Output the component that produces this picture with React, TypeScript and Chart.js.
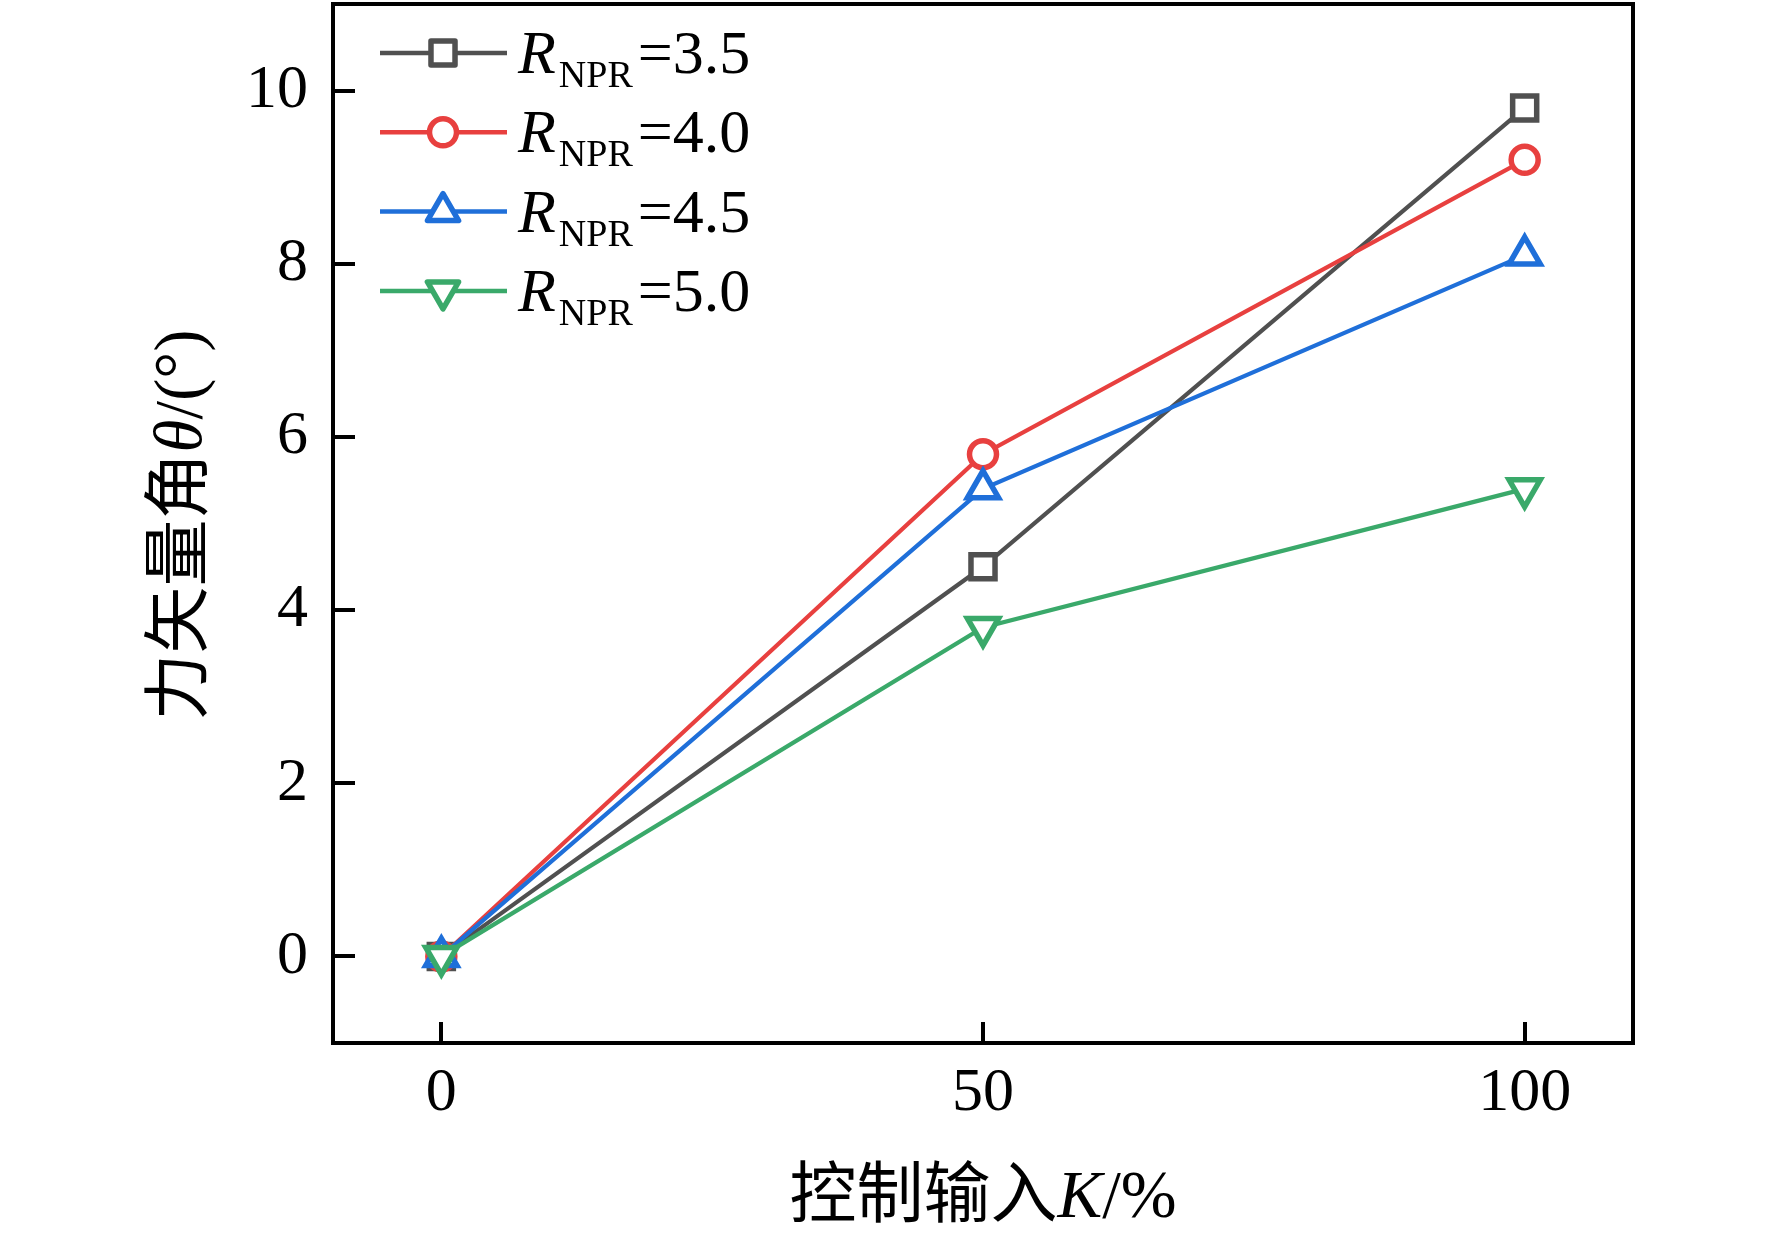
import React, { useEffect, useRef } from 'react';
import { Chart, registerables } from 'chart.js';

Chart.register(...registerables);

// ---- data ----
const kValues = [0, 50, 100];
const nprLabels = ['3.5', '4.0', '4.5', '5.0'];
const npr35 = [0, 4.5, 9.8];
const npr40 = [0, 5.8, 9.2];
const npr45 = [0, 5.4, 8.1];
const npr50 = [0, 3.8, 5.4];
const xTicks = [0, 50, 100];
const yTicks = [0, 2, 4, 6, 8, 10];
const xTitleRuns: [string, string][] = [['控制输入', 'cjk'], ['K', 'italic'], ['/%', 'roman']];
const yTitleRuns: [string, string][] = [['力矢量角', 'cjk'], ['θ', 'italic'], ['/(°)', 'roman']];

// ---- styles ----
const SERIF = '"Liberation Serif", "Times New Roman", serif';
const CJK = '"Noto Sans CJK SC", "Noto Sans CJK JP", sans-serif';
const seriesStyles = [
  { color: '#505050', pointStyle: 'rect', radius: 17, rotation: 0 },
  { color: '#e8403f', pointStyle: 'circle', radius: 13.5, rotation: 0 },
  { color: '#1f6fd9', pointStyle: 'triangle', radius: 18, rotation: 0 },
  { color: '#3aa96a', pointStyle: 'triangle', radius: 18, rotation: 180 },
];
const seriesValues = [npr35, npr40, npr45, npr50];

const W = 1772;
const H = 1238;
const TITLE_SIZE = 67;

function fontFor(kind: string, size: number) {
  if (kind === 'cjk') return `${size}px ${CJK}`;
  if (kind === 'italic') return `italic ${size}px ${SERIF}`;
  return `${size}px ${SERIF}`;
}

function runsWidth(ctx: CanvasRenderingContext2D, runs: [string, string][], size: number) {
  let w = 0;
  for (const [t, k] of runs) {
    ctx.font = fontFor(k, size);
    w += ctx.measureText(t).width;
  }
  return w;
}

function drawRuns(ctx: CanvasRenderingContext2D, runs: [string, string][], size: number, x: number, y: number) {
  let cx = x;
  for (const [t, k] of runs) {
    ctx.font = fontFor(k, size);
    ctx.fillText(t, cx, y);
    cx += ctx.measureText(t).width;
  }
}

function drawMarker(ctx: CanvasRenderingContext2D, style: string, x: number, y: number, r: number, rotation: number) {
  ctx.beginPath();
  if (style === 'rect') {
    const s = Math.SQRT1_2 * r;
    ctx.rect(x - s, y - s, 2 * s, 2 * s);
  } else if (style === 'circle') {
    ctx.arc(x, y, r, 0, Math.PI * 2);
  } else {
    let rad = (rotation * Math.PI) / 180;
    ctx.moveTo(x + Math.sin(rad) * r, y - Math.cos(rad) * r);
    rad += (2 * Math.PI) / 3;
    ctx.lineTo(x + Math.sin(rad) * r, y - Math.cos(rad) * r);
    rad += (2 * Math.PI) / 3;
    ctx.lineTo(x + Math.sin(rad) * r, y - Math.cos(rad) * r);
    ctx.closePath();
  }
  ctx.fill();
  ctx.stroke();
}

const decorPlugin = {
  id: 'decor',
  afterDraw(chart: any) {
    const ctx: CanvasRenderingContext2D = chart.ctx;
    const { left, right, top, bottom } = chart.chartArea;
    ctx.save();
    // frame top & right
    ctx.strokeStyle = '#000';
    ctx.lineWidth = 4;
    ctx.lineCap = 'square';
    ctx.beginPath();
    ctx.moveTo(left, top);
    ctx.lineTo(right, top);
    ctx.lineTo(right, bottom);
    ctx.stroke();
    ctx.lineCap = 'butt';

    // legend
    const lineX0 = left + 47;
    const lineX1 = left + 174;
    const markX = left + 110;
    const textX = left + 185;
    seriesStyles.forEach((st, i) => {
      const ry = top + 49 + i * 79.3;
      ctx.strokeStyle = st.color;
      ctx.lineWidth = 4.5;
      ctx.beginPath();
      ctx.moveTo(lineX0, ry);
      ctx.lineTo(lineX1, ry);
      ctx.stroke();
      ctx.fillStyle = '#fff';
      ctx.lineWidth = 5.5;
      ctx.lineJoin = 'round';
      drawMarker(ctx, st.pointStyle, markX, ry, st.radius, st.rotation);
      ctx.lineJoin = 'miter';
      ctx.fillStyle = '#000';
      ctx.textAlign = 'left';
      ctx.textBaseline = 'alphabetic';
      let x = textX;
      ctx.font = fontFor('italic', 62);
      ctx.fillText('R', x, ry + 20);
      x += ctx.measureText('R').width + 3;
      ctx.font = fontFor('roman', 38);
      ctx.fillText('NPR', x, ry + 34);
      x += ctx.measureText('NPR').width + 5;
      ctx.font = fontFor('roman', 62);
      ctx.fillText('=' + nprLabels[i], x, ry + 20);
    });

    // axis titles
    ctx.fillStyle = '#000';
    ctx.textAlign = 'left';
    ctx.textBaseline = 'alphabetic';
    const xw = runsWidth(ctx, xTitleRuns, TITLE_SIZE);
    drawRuns(ctx, xTitleRuns, TITLE_SIZE, (left + right) / 2 - xw / 2, 1217);

    const yw = runsWidth(ctx, yTitleRuns, TITLE_SIZE);
    ctx.translate(201, 525);
    ctx.rotate(-Math.PI / 2);
    drawRuns(ctx, yTitleRuns, TITLE_SIZE, -yw / 2, 0);
    ctx.restore();
  },
};

export default function App() {
  const canvasRef = useRef<HTMLCanvasElement | null>(null);

  useEffect(() => {
    const canvas = canvasRef.current;
    if (!canvas) return;
    const datasets = seriesValues.map((vals, i) => {
      const st = seriesStyles[i];
      return {
        label: 'R_NPR=' + nprLabels[i],
        data: kValues.map((k, j) => ({ x: k, y: vals[j] })),
        borderColor: st.color,
        backgroundColor: '#ffffff',
        borderWidth: 4.2,
        pointStyle: st.pointStyle as any,
        pointRadius: st.radius,
        pointRotation: st.rotation,
        pointBorderColor: st.color,
        pointBackgroundColor: '#ffffff',
        pointBorderWidth: 5.5,
        tension: 0,
        order: 3 - i,
        clip: false as any,
      };
    });

    const tickFont = { family: SERIF, size: 62 };
    const chart = new Chart(canvas, {
      type: 'line',
      data: { datasets },
      plugins: [decorPlugin],
      options: {
        responsive: false,
        animation: false,
        devicePixelRatio: 1,
        events: [],
        layout: { autoPadding: false, padding: { left: 0, right: W - 1633, top: 4, bottom: 0 } },
        plugins: {
          legend: { display: false },
          tooltip: { enabled: false },
          title: { display: false },
        },
        elements: { point: { borderJoinStyle: 'round' } as any },
        scales: {
          x: {
            type: 'linear',
            min: -10,
            max: 110,
            afterBuildTicks: (s: any) => {
              s.ticks = xTicks.map((v) => ({ value: v }));
            },
            afterFit: (s: any) => {
              s.height = H - 1043;
              s.paddingLeft = 0;
              s.paddingRight = 0;
            },
            ticks: {
              color: '#000',
              font: tickFont,
              padding: 35,
              maxRotation: 0,
              autoSkip: false,
            },
            grid: {
              display: true,
              drawOnChartArea: false,
              drawTicks: true,
              tickLength: -21,
              color: '#000',
              lineWidth: 4,
            },
            border: { display: true, color: '#000', width: 4 },
          },
          y: {
            type: 'linear',
            min: -1,
            max: 11,
            afterBuildTicks: (s: any) => {
              s.ticks = yTicks.map((v) => ({ value: v }));
            },
            afterFit: (s: any) => {
              s.width = 333;
              s.paddingTop = 0;
              s.paddingBottom = 0;
            },
            ticks: {
              color: '#000',
              font: tickFont,
              padding: 47,
              autoSkip: false,
            },
            grid: {
              display: true,
              drawOnChartArea: false,
              drawTicks: true,
              tickLength: -22,
              color: '#000',
              lineWidth: 4,
            },
            border: { display: true, color: '#000', width: 4 },
          },
        },
      } as any,
    });
    return () => chart.destroy();
  }, []);

  return (
    <div style={{ position: 'absolute', left: 0, top: 0, width: W, height: H, background: '#fff' }}>
      <canvas ref={canvasRef} width={W} height={H} style={{ display: 'block', width: W, height: H }} />
    </div>
  );
}
